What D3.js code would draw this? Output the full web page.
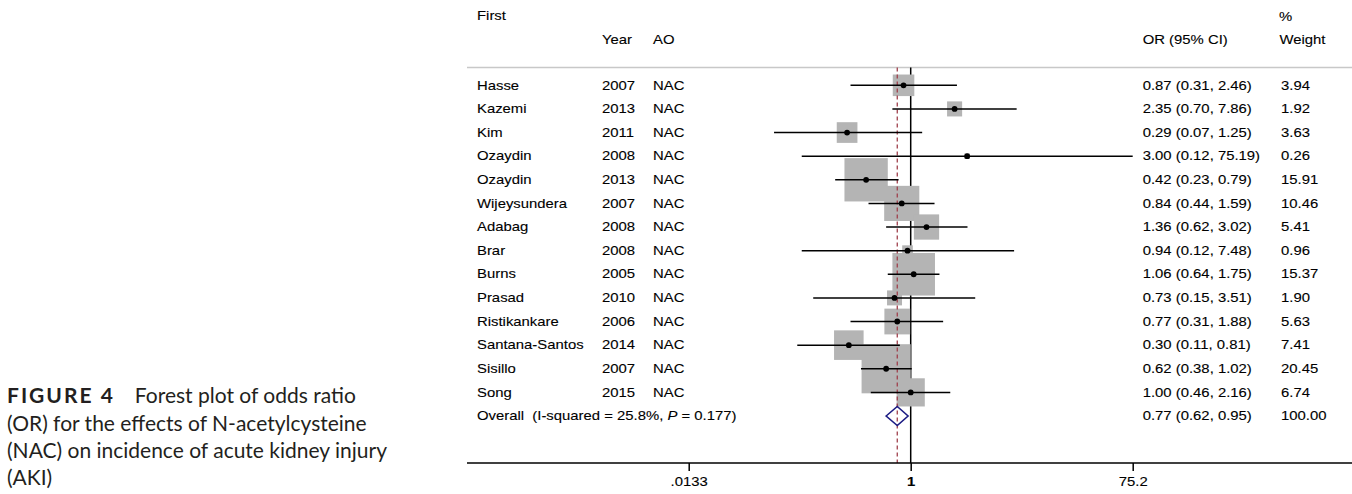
<!DOCTYPE html>
<html lang="en">
<head>
<meta charset="UTF-8">
<title>Forest plot of odds ratio</title>
<script src="https://cdn.jsdelivr.net/npm/d3@7.8.5/dist/d3.min.js"></script>
<style>
    body{ margin:0; background:#fff; }
    svg{ display:block; }
    .tbl{ font-family:"Liberation Sans", Arial, sans-serif; font-size:12px; fill:#000; stroke:#000; stroke-width:0.1px; white-space:pre; }
    .cap{ font-family:Lato, sans-serif; font-size:21px; fill:#231f20; }
</style>
</head>
<body>
<div id="chart"></div>
<script>
// study table
const studies = ["Hasse","Kazemi","Kim","Ozaydin","Ozaydin","Wijeysundera","Adabag","Brar","Burns","Prasad","Ristikankare","Santana-Santos","Sisillo","Song"];
const years   = [2007,2013,2011,2008,2013,2007,2008,2008,2005,2010,2006,2014,2007,2015];
const agent   = ["NAC","NAC","NAC","NAC","NAC","NAC","NAC","NAC","NAC","NAC","NAC","NAC","NAC","NAC"];
const oddsRatio = [0.87,2.35,0.29,3.00,0.42,0.84,1.36,0.94,1.06,0.73,0.77,0.30,0.62,1.00];
const ciLow     = [0.31,0.70,0.07,0.12,0.23,0.44,0.62,0.12,0.64,0.15,0.31,0.11,0.38,0.46];
const ciHigh    = [2.46,7.86,1.25,75.19,0.79,1.59,3.02,7.48,1.75,3.51,1.88,0.81,1.02,2.16];
const weights   = [3.94,1.92,3.63,0.26,15.91,10.46,5.41,0.96,15.37,1.90,5.63,7.41,20.45,6.74];

// pooled estimate
const overall = {or:0.77, lo:0.62, hi:0.95, weight:100.00, i2:"25.8%", p:"0.177"};

// axis ticks
const tickValues = [0.0133, 1, 75.2];
const tickLabels = [".0133", "1", "75.2"];

const W = 1352, H = 494;
const sx = 1.24;   // the stata text is stretched sideways

const svg = d3.select("#chart").append("svg")
    .attr("width", W).attr("height", H);

const x = d3.scaleLog().domain([1/75.2, 75.2]).range([688.7, 1132.7]);
const y = d3.scaleLinear().domain([0, studies.length]).range([85.3, 416]);
const boxSide = d3.scaleSqrt().domain([0, 100]).range([0, 108.6]);

const lineTop = 67.5, axisY = 463;

function label(g, txt, px, py, cls){
    return g.append("text")
        .attr("class", cls || "tbl")
        .attr("transform", `translate(${px},${py}) scale(${sx},1)`)
        .attr("dy", "0.35em")
        .text(txt);
}

// header rule
svg.append("line")
    .attr("x1", 467).attr("x2", W).attr("y1", lineTop).attr("y2", lineTop)
    .attr("stroke", "#c8c8c8").attr("stroke-width", 1.5);

// null line at OR = 1
svg.append("line")
    .attr("x1", x(1)).attr("x2", x(1)).attr("y1", lineTop).attr("y2", axisY)
    .attr("stroke", "#000").attr("stroke-width", 1.5);

// weight boxes
const rows = studies.map((s, i) => ({name:s, year:years[i], ao:agent[i], or:oddsRatio[i], lo:ciLow[i], hi:ciHigh[i], w:weights[i], i:i}));

svg.append("g").selectAll("rect")
    .data(rows).enter().append("rect")
    .attr("x", d => x(d.or) - boxSide(d.w)/2)
    .attr("y", d => y(d.i) - boxSide(d.w)/2)
    .attr("width", d => boxSide(d.w))
    .attr("height", d => boxSide(d.w))
    .attr("fill", "#b4b4b4");

// pooled estimate line
svg.append("line")
    .attr("x1", x(overall.or)).attr("x2", x(overall.or)).attr("y1", lineTop).attr("y2", axisY)
    .attr("stroke", "#a0404c").attr("stroke-width", 1.3)
    .attr("stroke-dasharray", "4,3");

// confidence intervals
svg.append("g").selectAll("line")
    .data(rows).enter().append("line")
    .attr("x1", d => x(d.lo)).attr("x2", d => x(d.hi))
    .attr("y1", d => y(d.i)).attr("y2", d => y(d.i))
    .attr("stroke", "#000").attr("stroke-width", 1.5);

svg.append("g").selectAll("circle")
    .data(rows).enter().append("circle")
    .attr("cx", d => x(d.or)).attr("cy", d => y(d.i))
    .attr("r", 2.9).attr("fill", "#000");

// overall diamond
const oy = y(studies.length);
svg.append("polygon")
    .attr("points", [[x(overall.lo), oy], [x(overall.or), oy - 9.5], [x(overall.hi), oy], [x(overall.or), oy + 9.5]].join(" "))
    .attr("fill", "none").attr("stroke", "#1c1c84").attr("stroke-width", 1.6);

// table text
const tbl = svg.append("g");
label(tbl, "First", 477, 16);
label(tbl, "Year", 602, 39.5);
label(tbl, "AO", 653, 39.5);
label(tbl, "OR (95% CI)", 1142.7, 39.5);
label(tbl, "%", 1279, 16.5);
label(tbl, "Weight", 1279.5, 39.5);

rows.forEach(d => {
    const ry = y(d.i);
    label(tbl, d.name, 477, ry);
    label(tbl, String(d.year), 602, ry);
    label(tbl, d.ao, 653, ry);
    label(tbl, `${d.or.toFixed(2)} (${d.lo.toFixed(2)}, ${d.hi.toFixed(2)})`, 1142.7, ry);
    label(tbl, d.w.toFixed(2), 1281, ry);
});

const ov = label(tbl, "", 477, oy);
ov.append("tspan").text(`Overall  (I-squared = ${overall.i2}, `);
ov.append("tspan").attr("font-style", "italic").text("P");
ov.append("tspan").text(` = ${overall.p})`);
label(tbl, `${overall.or.toFixed(2)} (${overall.lo.toFixed(2)}, ${overall.hi.toFixed(2)})`, 1142.7, oy);
label(tbl, overall.weight.toFixed(2), 1281, oy);

// bottom axis
svg.append("line")
    .attr("x1", 467).attr("x2", W).attr("y1", axisY).attr("y2", axisY)
    .attr("stroke", "#000").attr("stroke-width", 1.3);

const axis = svg.append("g")
    .attr("transform", `translate(0,${axisY})`)
    .call(d3.axisBottom(x).tickValues(tickValues)
        .tickFormat((d, i) => tickLabels[i]).tickSize(8).tickPadding(6));
axis.select(".domain").remove();
axis.selectAll(".tick line").attr("stroke", "#000").attr("stroke-width", 1.5);
axis.selectAll(".tick text")
    .attr("class", "tbl")
    .attr("font-family", null).attr("font-size", null)
    .attr("font-weight", d => d === 1 ? "bold" : null)
    .attr("transform", `scale(${sx},1)`);

// caption
const cap = svg.append("g");
const capLines = [
    ["FIGURE 4", "Forest plot of odds ratio"],
    ["", "(OR) for the effects of N-acetylcysteine"],
    ["", "(NAC) on incidence of acute kidney injury"],
    ["", "(AKI)"]
];
capLines.forEach((ln, i) => {
    const t = cap.append("text").attr("class", "cap")
        .attr("x", 7).attr("y", 396 + i * 27.3).attr("dy", "0.35em");
    if (ln[0]) {
        t.append("tspan").attr("font-weight", "bold").attr("letter-spacing", "2px").text(ln[0]);
        t.append("tspan").attr("dx", 20).text(ln[1]);
    } else {
        t.text(ln[1]);
    }
});
</script>
</body>
</html>
